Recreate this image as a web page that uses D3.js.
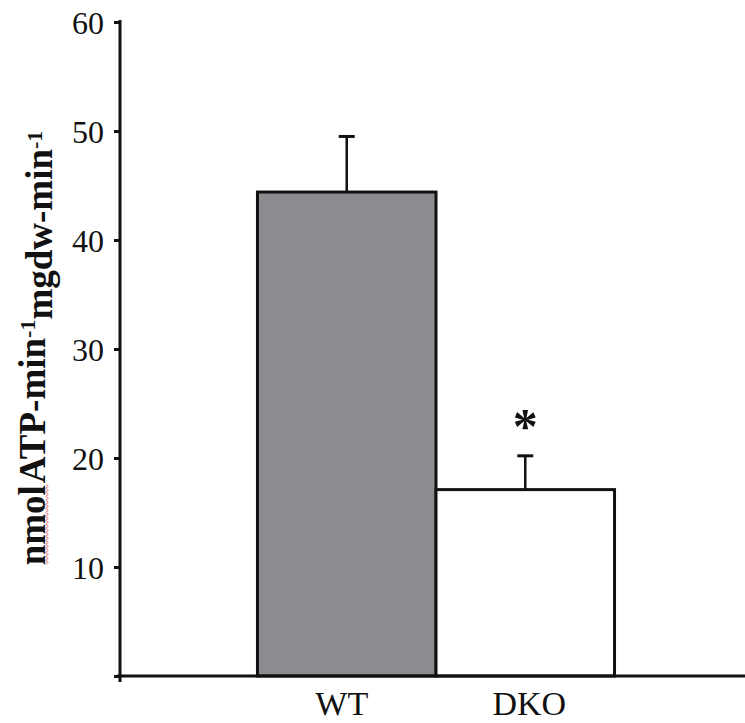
<!DOCTYPE html>
<html>
<head>
<meta charset="utf-8">
<script src="https://cdn.jsdelivr.net/npm/d3@7"></script>
<style>
  body { margin: 0; background: #fff; }
  svg { display: block; }
</style>
</head>
<body>
<div class="chart"></div>
<script>
const groups = ["WT", "DKO"];
const means = [44.4, 17.1];
const errors = [5.1, 3.1];
const yTicks = [0, 10, 20, 30, 40, 50, 60];
const sigMarks = ["", "*"];

const width = 745;
const height = 723;
const margin = { top: 22, right: 0, bottom: 47, left: 120 };
const serif = "'Liberation Serif', 'Times New Roman', serif";

const svg = d3.select(".chart").append("svg")
  .attr("width", width)
  .attr("height", height);

const y = d3.scaleLinear()
  .domain([0, 60])
  .range([height - margin.bottom, margin.top]);

const x = d3.scaleBand()
  .domain(groups)
  .range([margin.left, 752])
  .paddingInner(0)
  .paddingOuter(0.77);

const colors = ["#8b8c90", "#ffffff"];

// bars
svg.selectAll(".bar")
  .data(groups)
  .enter()
  .append("rect")
  .attr("class", "bar")
  .attr("x", d => x(d))
  .attr("y", (d, i) => y(means[i]))
  .attr("width", x.bandwidth())
  .attr("height", (d, i) => y(0) - y(means[i]))
  .attr("fill", (d, i) => colors[i])
  .attr("stroke", "#111")
  .attr("stroke-width", 3);

// error bars (upper only)
const err = svg.selectAll(".err")
  .data(groups)
  .enter()
  .append("g")
  .attr("class", "err");

err.append("line")
  .attr("x1", d => x(d) + x.bandwidth() / 2)
  .attr("x2", d => x(d) + x.bandwidth() / 2)
  .attr("y1", (d, i) => y(means[i]))
  .attr("y2", (d, i) => y(means[i] + errors[i]))
  .attr("stroke", "#111")
  .attr("stroke-width", 2.5);

err.append("line")
  .attr("x1", d => x(d) + x.bandwidth() / 2 - 8)
  .attr("x2", d => x(d) + x.bandwidth() / 2 + 8)
  .attr("y1", (d, i) => y(means[i] + errors[i]))
  .attr("y2", (d, i) => y(means[i] + errors[i]))
  .attr("stroke", "#111")
  .attr("stroke-width", 3);

// significance asterisk
svg.selectAll(".sig")
  .data(groups)
  .enter()
  .append("text")
  .attr("class", "sig")
  .attr("x", d => x(d) + x.bandwidth() / 2)
  .attr("y", (d, i) => y(means[i] + errors[i]) - 13)
  .attr("text-anchor", "middle")
  .style("font-family", serif)
  .style("font-weight", "bold")
  .style("font-size", "50px")
  .attr("fill", "#111")
  .text((d, i) => sigMarks[i]);

// y axis
const yAxis = svg.append("g")
  .attr("transform", "translate(" + margin.left + ",0)")
  .call(d3.axisLeft(y).tickValues(yTicks).tickSize(6).tickPadding(10).tickFormat(d => d === 0 ? "" : d));

yAxis.select(".domain")
  .attr("d", "M0," + (y(60) - 2) + "V" + (y(0) + 6))
  .attr("stroke", "#111")
  .attr("stroke-width", 3);
yAxis.selectAll(".tick line").attr("stroke", "#111").attr("stroke-width", 3);
yAxis.selectAll(".tick text")
  .attr("dy", "0.36em")
  .style("font-family", serif)
  .style("font-size", "32px")
  .attr("fill", "#111");

// x axis
svg.append("line")
  .attr("x1", margin.left - 3)
  .attr("x2", width)
  .attr("y1", y(0))
  .attr("y2", y(0))
  .attr("stroke", "#111")
  .attr("stroke-width", 3);

svg.selectAll(".xlabel")
  .data(groups)
  .enter()
  .append("text")
  .attr("class", "xlabel")
  .attr("x", (d, i) => x(d) + x.bandwidth() / 2 + (i === 0 ? -5 : 4))
  .attr("y", y(0) + 39)
  .attr("text-anchor", "middle")
  .style("font-family", serif)
  .style("font-size", "34px")
  .attr("fill", "#111")
  .text(d => d);

// y label
const labG = svg.append("g")
  .attr("transform", "translate(45,348) rotate(-90)");

const ylab = labG.append("text")
  .attr("text-anchor", "middle")
  .style("font-family", serif)
  .style("font-weight", "bold")
  .style("font-size", "37px")
  .attr("fill", "#111");

const nmol = ylab.append("tspan").text("nmol");
ylab.append("tspan").attr("dx", 2).text("ATP-min");
ylab.append("tspan").attr("dy", "-0.45em").style("font-size", "22px").text("-1");
ylab.append("tspan").attr("dy", "0.45em").text("mgdw-min");
ylab.append("tspan").attr("dy", "-0.45em").style("font-size", "22px").text("-1");

// red spell-check squiggle under "nmol"
const total = ylab.node().getComputedTextLength();
const nLen = nmol.node().getComputedTextLength();
const x0 = -total / 2;
const pts = d3.range(0, Math.floor(nLen / 2) + 1).map(k => [x0 + k * 2, k % 2 === 0 ? 1 : 3]);
labG.append("path")
  .attr("d", d3.line()(pts))
  .attr("fill", "none")
  .attr("stroke", "#e84a4a")
  .attr("stroke-width", 1);
</script>
</body>
</html>
